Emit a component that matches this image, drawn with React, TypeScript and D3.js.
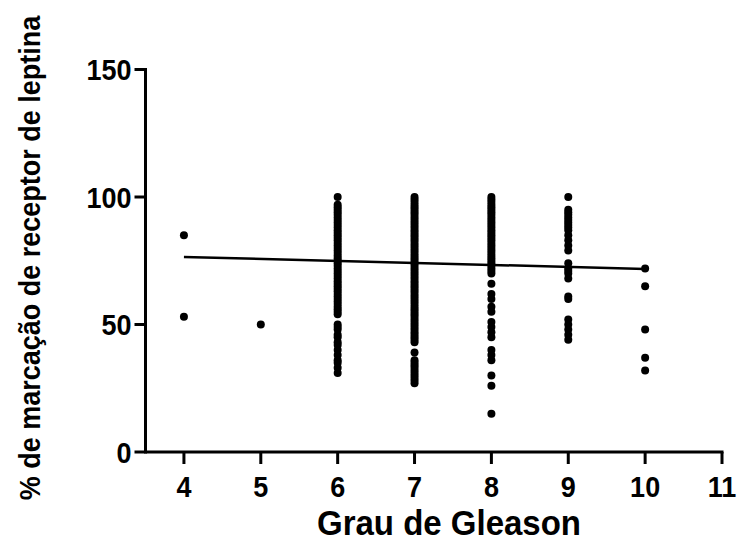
import React from "react";
import * as d3 from "d3";

const gleason4 = [85, 53];
const gleason5 = [50];
const gleason6 = [100, 97, 96, 95, 94, 93, 92, 91, 90, 89, 88, 87, 86, 85, 84, 83, 82, 81, 80, 79, 78, 77, 76, 75, 74, 73, 72, 71, 70, 69, 68, 67, 66, 65, 64, 63, 62, 61, 60, 59, 58, 57, 56, 55, 54, 50, 49, 48, 46, 45, 43, 42, 40, 38, 36, 35, 33, 31];
const gleason7 = [100, 99, 98, 97, 96, 95, 94, 93, 92, 91, 90, 89, 88, 87, 86, 85, 84, 83, 82, 81, 80, 79, 78, 77, 76, 75, 74, 73, 72, 71, 70, 69, 68, 67, 66, 65, 64, 63, 62, 61, 60, 59, 58, 57, 56, 55, 54, 53, 52, 51, 50, 49, 48, 47, 46, 45, 44, 43, 39, 36, 35, 34, 33, 32, 31, 30, 29, 28, 27];
const gleason8 = [100, 99, 98, 97, 96, 95, 94, 93, 92, 91, 90, 89, 88, 87, 86, 85, 84, 83, 82, 81, 80, 79, 78, 77, 76, 75, 74, 73, 72, 71, 70, 66, 62, 60, 57, 55, 51, 49, 47, 45, 40, 38, 36, 30, 26, 15];
const gleason9 = [100, 95, 94, 93, 92, 91, 90, 89, 88, 87, 85, 83, 81, 79, 74, 72, 71, 70, 68, 61, 60, 52, 50, 48, 46, 44];
const gleason10 = [72, 65, 48, 37, 32];

const groupGrades = [4, 5, 6, 7, 8, 9, 10];
const groupValues = [gleason4, gleason5, gleason6, gleason7, gleason8, gleason9, gleason10];

const fitX = [4, 10];
const fitY = [76.5, 71.8];

const xTicks = [4, 5, 6, 7, 8, 9, 10, 11];
const yTicks = [0, 50, 100, 150];

const xTitle = "Grau de Gleason";
const yTitle = "% de marcação de receptor de leptina";

export default function App() {
  const W = 737;
  const H = 543;
  const x = d3.scaleLinear().domain([3.5, 11]).range([145.5, 722]);
  const y = d3.scaleLinear().domain([0, 150]).range([452, 69.5]);

  const points: { g: number; v: number }[] = [];
  groupGrades.forEach((g, i) => groupValues[i].forEach((v) => points.push({ g, v })));

  const line = d3
    .line<number>()
    .x((_, i) => x(fitX[i]))
    .y((d) => y(d));

  const font = "'Liberation Sans', Arial, Helvetica, sans-serif";
  const x0 = x(3.5);
  const y0 = y(0);

  return (
    <svg
      width={W}
      height={H}
      style={{ position: "absolute", left: 0, top: 0, background: "#fff" }}
      fontFamily={font}
      fontWeight="bold"
    >
      <rect width={W} height={H} fill="#fff" />
      {/* Y axis */}
      <line x1={x0} x2={x0} y1={y(150) - 1.5} y2={y0 + 1.5} stroke="#000" strokeWidth={3} />
      {yTicks.map((t) => (
        <g key={"y" + t}>
          <line x1={x0 - 11} x2={x0} y1={y(t)} y2={y(t)} stroke="#000" strokeWidth={3} />
          <text
            transform={`translate(${x0 - 14},${y(t)}) scale(1,1.12)`}
            textAnchor="end"
            dominantBaseline="central"
            fontSize={27}
            fill="#000"
          >
            {t}
          </text>
        </g>
      ))}
      {/* X axis */}
      <line x1={x0} x2={x(11) + 1.5} y1={y0} y2={y0} stroke="#000" strokeWidth={3} />
      {xTicks.map((t) => (
        <g key={"x" + t}>
          <line x1={x(t)} x2={x(t)} y1={y0} y2={y0 + 12} stroke="#000" strokeWidth={3} />
          <text
            transform={`translate(${x(t)},${y0 + 34}) scale(1,1.12)`}
            textAnchor="middle"
            dominantBaseline="central"
            fontSize={27}
            fill="#000"
          >
            {t}
          </text>
        </g>
      ))}
      {/* Points */}
      {points.map((p, i) => (
        <circle key={i} cx={x(p.g)} cy={y(p.v)} r={4} fill="#000" />
      ))}
      {/* Regression line */}
      <path d={line(fitY) || ""} fill="none" stroke="#000" strokeWidth={2.5} />
      {/* Titles */}
      <text
        transform={`translate(${449},${523}) scale(1,1.08)`}
        textAnchor="middle"
        dominantBaseline="central"
        fontSize={33}
        fill="#000"
      >
        {xTitle}
      </text>
      <text
        transform={`translate(${30},${258}) rotate(-90) scale(1,1.08)`}
        textAnchor="middle"
        dominantBaseline="central"
        fontSize={27}
        fill="#000"
      >
        {yTitle}
      </text>
    </svg>
  );
}
